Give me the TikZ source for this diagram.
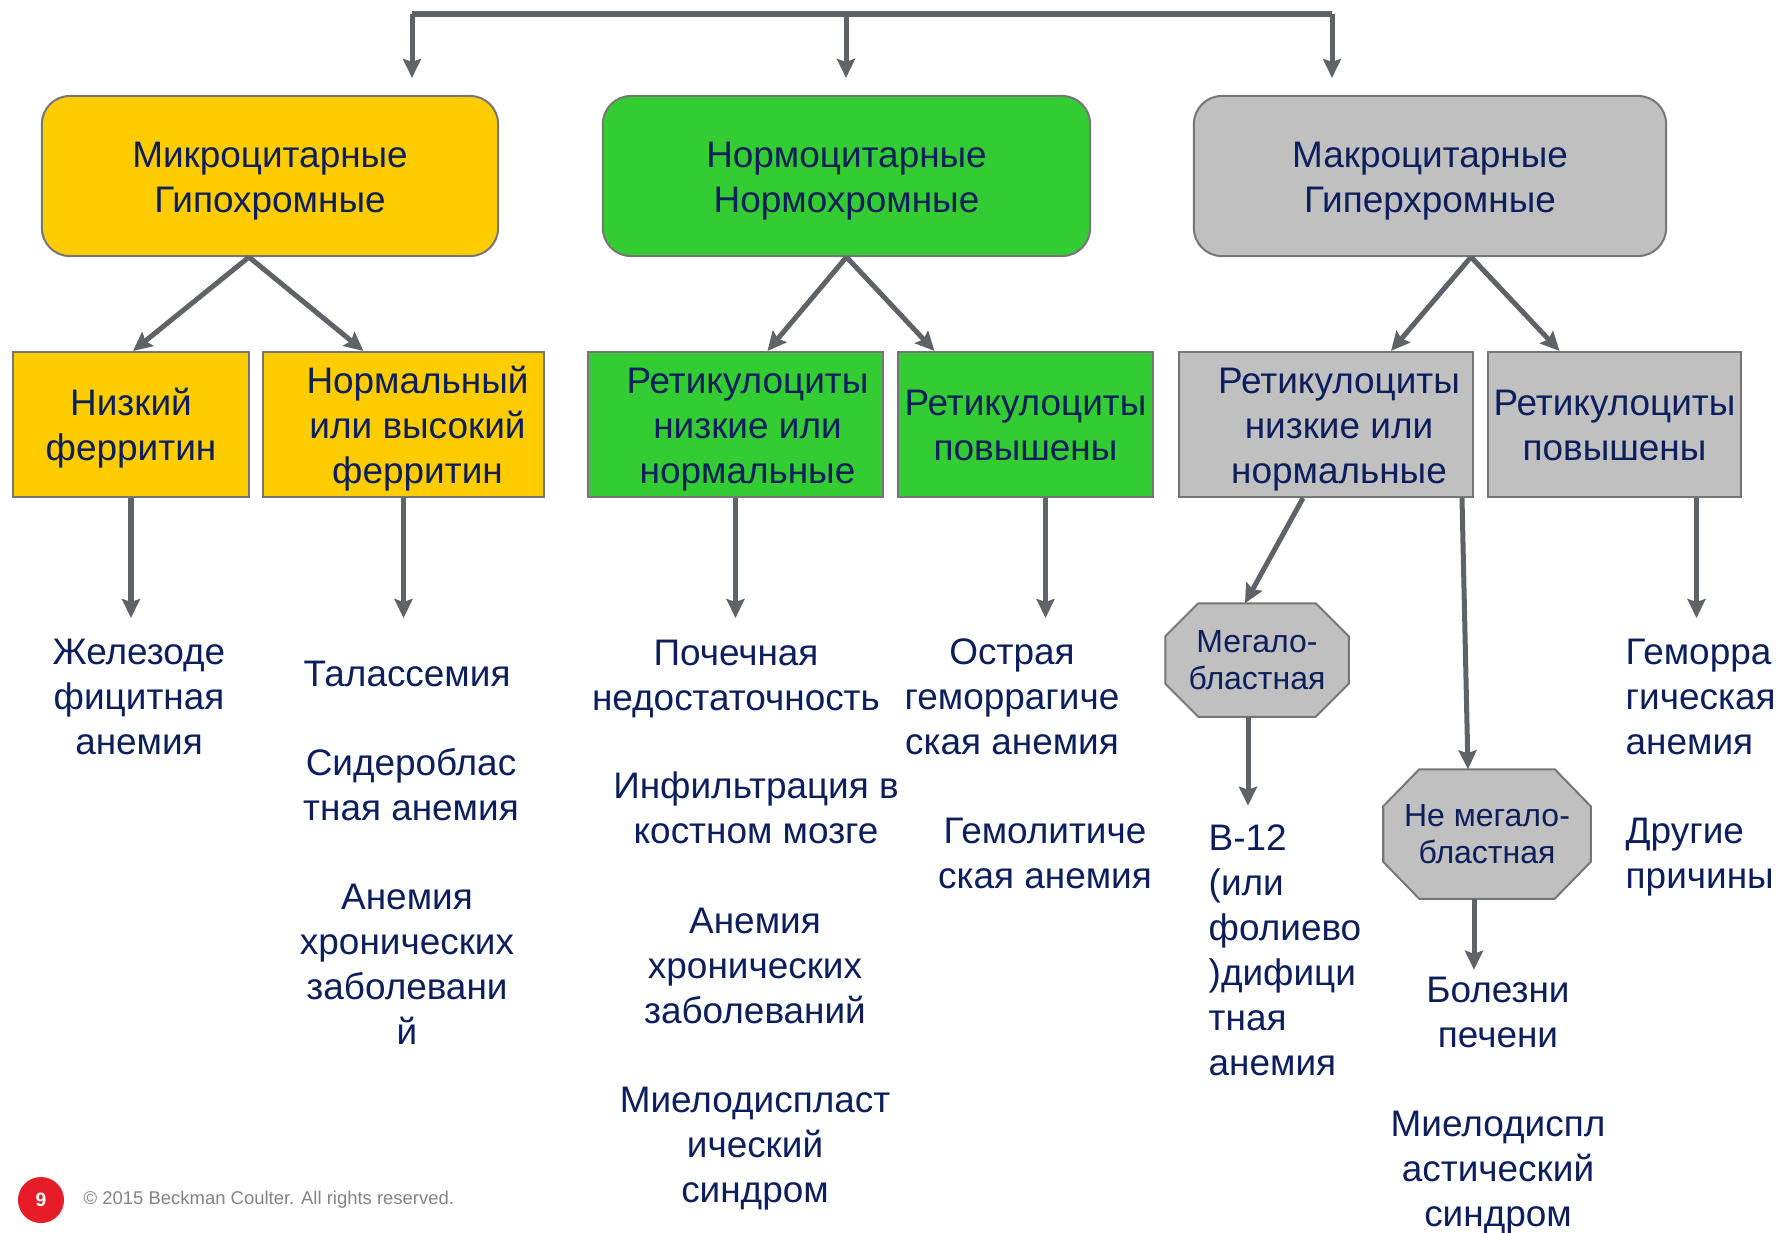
\documentclass[tikz,border=0pt]{standalone}
\usepackage{fontspec}
\setmainfont{Liberation Sans}
\usetikzlibrary{arrows.meta,calc,backgrounds}

\definecolor{navytext}{RGB}{12,30,92}
\definecolor{arrowgray}{RGB}{95,99,104}
\definecolor{microyellow}{RGB}{255,204,0}
\definecolor{normogreen}{RGB}{51,204,51}
\definecolor{macrogray}{RGB}{192,192,192}
\definecolor{edgegray}{RGB}{118,118,118}
\definecolor{footred}{RGB}{230,28,40}
\definecolor{footgray}{RGB}{128,132,138}

\begin{document}
\begin{tikzpicture}[x=0.01cm,y=-0.01cm,
  txt/.style={text=navytext,font=\fontsize{10.5}{12.8}\selectfont,align=center,inner sep=0pt},
  topbox/.style={txt,draw=edgegray,line width=0.02cm,rounded corners=0.28cm,minimum height=1.6cm,
    text height=21pt,text depth=0pt},
  subbox/.style={txt,draw=edgegray,line width=0.02cm,minimum height=1.45cm,text depth=0pt},
  subtwo/.style={subbox,text height=20.4pt},
  subthree/.style={subbox,text height=33.4pt},
  octbox/.style={inner sep=0pt,text=navytext,font=\fontsize{9.1}{10.5}\selectfont,align=center},
  octline/.style={draw=edgegray,line width=0.02cm,fill=macrogray},
  arr/.style={draw=arrowgray,line width=0.05cm,-{Stealth[length=0.19cm,width=0.18cm,inset=0.03cm]}},
  bar/.style={draw=arrowgray,line width=0.065cm}]

\def \topy {176}
\def \suby {424.5}
\def \drop {120}

\useasboundingbox (0,0) rectangle (1781,1232);

% first level
\node[topbox,fill=microyellow,minimum width=4.56cm] (micro) at (270,\topy) {Микроцитарные\\Гипохромные};
\node[topbox,fill=normogreen,minimum width=4.87cm] (normo) at (846.5,\topy) {Нормоцитарные\\Нормохромные};
\node[topbox,fill=macrogray,minimum width=4.72cm] (macro) at (1430,\topy) {Макроцитарные\\Гиперхромные};

\coordinate (barl) at (412,14);
\coordinate (barm) at (846,14);
\coordinate (barr) at (1332,14);
\draw[bar] (barl) -- (barr);
\draw[arr,shorten >=0.17cm] (barl) -- (barl |- micro.north);
\draw[arr,shorten >=0.17cm] (barm) -- (barm |- normo.north);
\draw[arr,shorten >=0.17cm] (barr) -- (barr |- macro.north);

% second level
\node[subtwo,fill=microyellow,minimum width=2.36cm] (lowfer) at (131,\suby) {Низкий\\ферритин};
\node[subthree,fill=microyellow,minimum width=2.81cm] (highfer) at (403.5,\suby) {\hspace*{0.28cm}Нормальный\\\hspace*{0.28cm}или высокий\\\hspace*{0.28cm}ферритин};
\node[subthree,fill=normogreen,minimum width=2.95cm] (nretlo) at (735.5,\suby) {\hspace*{0.24cm}Ретикулоциты\\\hspace*{0.24cm}низкие или\\\hspace*{0.24cm}нормальные};
\node[subtwo,fill=normogreen,minimum width=2.55cm] (nrethi) at (1025.5,\suby) {Ретикулоциты\\повышены};
\node[subthree,fill=macrogray,minimum width=2.94cm] (mretlo) at (1326,\suby) {\hspace*{0.26cm}Ретикулоциты\\\hspace*{0.26cm}низкие или\\\hspace*{0.26cm}нормальные};
\node[subtwo,fill=macrogray,minimum width=2.53cm] (mrethi) at (1614.5,\suby) {Ретикулоциты\\повышены};

\draw[arr] ($(micro.south)+(-21,0)$) -- ($(lowfer.north)+(2,0)$);
\draw[arr] ($(micro.south)+(-21,0)$) -- ($(highfer.north)+(-40,0)$);
\draw[arr] (normo.south) -- ($(nretlo.north)+(32,0)$);
\draw[arr] (normo.south) -- ($(nrethi.north)+(-91,0)$);
\draw[arr] ($(macro.south)+(41,0)$) -- ($(mretlo.north)+(65,0)$);
\draw[arr] ($(macro.south)+(41,0)$) -- ($(mrethi.north)+(-55,0)$);

% octagons
\node[octbox,minimum width=1.82cm,minimum height=1.12cm] (mega) at (1257,660) {Мегало-\\бластная};
\node[octbox,minimum width=2.06cm,minimum height=1.28cm] (nonmega) at (1487,834) {Не мегало-\\бластная};
\begin{scope}[on background layer]
\draw[octline] ($(mega.north west)+(33,0)$) -- ($(mega.north east)+(-33,0)$) -- ($(mega.north east)+(0,33)$)
  -- ($(mega.south east)+(0,-33)$) -- ($(mega.south east)+(-33,0)$) -- ($(mega.south west)+(33,0)$)
  -- ($(mega.south west)+(0,-33)$) -- ($(mega.north west)+(0,33)$) -- cycle;
\draw[octline] ($(nonmega.north west)+(36,0)$) -- ($(nonmega.north east)+(-36,0)$) -- ($(nonmega.north east)+(0,37)$)
  -- ($(nonmega.south east)+(0,-37)$) -- ($(nonmega.south east)+(-36,0)$) -- ($(nonmega.south west)+(36,0)$)
  -- ($(nonmega.south west)+(0,-37)$) -- ($(nonmega.north west)+(0,37)$) -- cycle;
\end{scope}

% arrows down
\draw[arr] (lowfer.south) -- ($(lowfer.south)+(0,\drop)$);
\draw[arr] (highfer.south) -- ($(highfer.south)+(0,\drop)$);
\draw[arr] (nretlo.south) -- ($(nretlo.south)+(0,\drop)$);
\draw[arr] ($(nrethi.south)+(20,0)$) -- ($(nrethi.south)+(20,\drop)$);
\draw[arr] ($(mrethi.south)+(82,0)$) -- ($(mrethi.south)+(82,\drop)$);
\draw[arr] ($(mretlo.south)+(-23,0)$) -- ($(mega.north)+(-12,0)$);
\draw[arr] ($(mretlo.south)+(136,0)$) -- ($(nonmega.north)+(-19,0)$);
\draw[arr] ($(mega.south)+(-9,0)$) -- ($(mega.south)+(-9,89)$);
\draw[arr] ($(nonmega.south)+(-13,0)$) -- ($(nonmega.south)+(-13,71)$);

% diagnoses
\node[txt] (irondef) at (139,697) {Железоде\\фицитная\\анемия};
\node[txt] (thal) at (407,674) {Талассемия};
\node[txt] (sidero) at (411,785) {Сидероблас\\тная анемия};
\node[txt] (chronone) at (407,964) {Анемия\\хронических\\заболевани\\й};
\node[txt] (renal) at (736,679) {Почечная\\недостаточность};
\node[txt] (marrow) at (756,808) {Инфильтрация в\\костном мозге};
\node[txt] (chrontwo) at (755,966) {Анемия\\хронических\\заболеваний};
\node[txt] (mdsone) at (755,1149) {Миелодиспласт\\ический\\синдром};
\node[txt] (acute) at (1012,697) {Острая\\геморрагиче\\ская анемия};
\node[txt] (hemolyt) at (1045,853) {Гемолитиче\\ская анемия};
\node[txt,align=left,anchor=west] (bdef) at (1208,950) {B-12\\(или\\фолиево\\)дифици\\тная\\анемия};
\node[txt] (liver) at (1498,1012) {Болезни\\печени};
\node[txt] (mdstwo) at (1498,1173) {Миелодиспл\\астический\\синдром};
\node[txt,align=left,anchor=west] (hemor) at (1625,697) {Геморра\\гическая\\анемия};
\node[txt,align=left,anchor=west] (other) at (1625,857) {Другие\\причины};

% footer
\node[circle,fill=footred,minimum size=0.46cm,inner sep=0pt,text=white,font=\bfseries\fontsize{5.5}{6}\selectfont] (page) at (41,1200) {9};
\node[anchor=west,inner sep=0pt,text=footgray,font=\fontsize{5.25}{6}\selectfont] (copy) at (83,1200) {© 2015 Beckman Coulter. All rights reserved.};
\end{tikzpicture}
\end{document}
